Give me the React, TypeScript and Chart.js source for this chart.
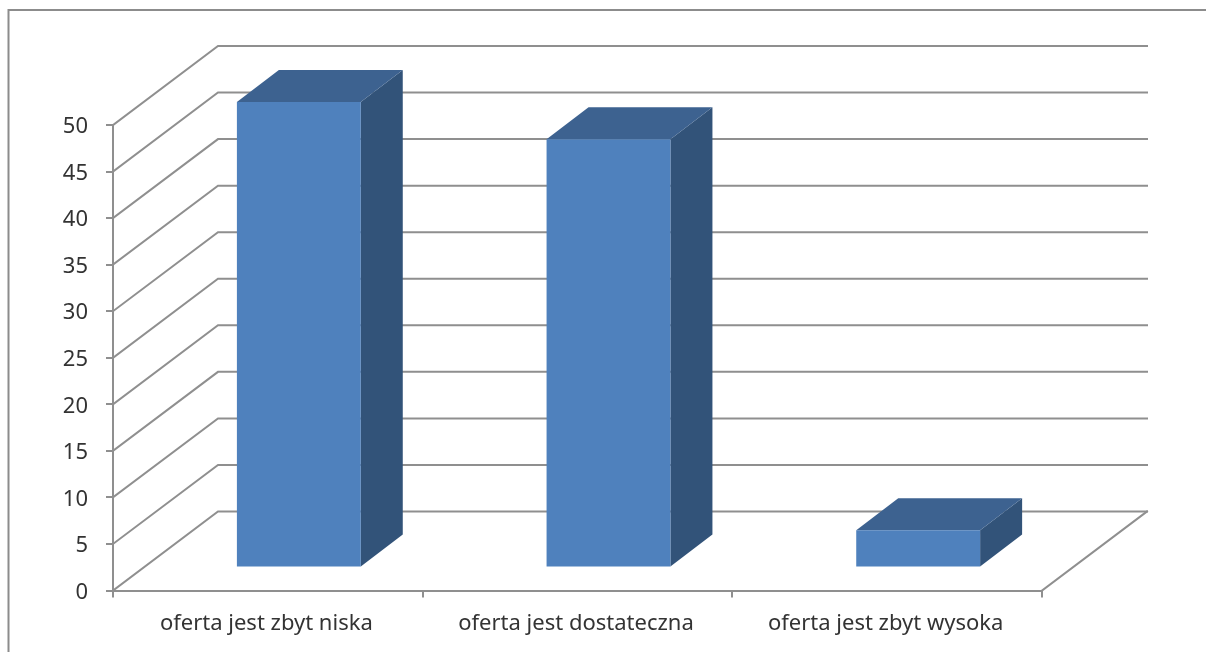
import React, { useEffect, useRef } from "react";
import { Chart, registerables } from "chart.js";

Chart.register(...registerables);

const categories = ["oferta jest zbyt niska", "oferta jest dostateczna", "oferta jest zbyt wysoka"];
const seriesValues = [50, 46, 4];
const yMax = 50;
const yStep = 5;

const LINE = "#8f8f8f";
const TEXT = "#333333";
const FRONT = "#4f81bd";
const SIDE = "#325379";
const TOP = "#3d6290";

const FLOOR_DX = 105;
const FLOOR_DY = -79;
const BAR_SHIFT_X = 31;
const BAR_SHIFT_Y = -23;
const BAR_DX = 42;
const BAR_DY = -32;

const threeD = {
  id: "threeD",
  beforeDraw(chart: any) {
    const { ctx, width, height } = chart;
    ctx.save();
    ctx.strokeStyle = "#8c8c8c";
    ctx.lineWidth = 2;
    ctx.beginPath();
    ctx.moveTo(8.5, height);
    ctx.lineTo(8.5, 10);
    ctx.lineTo(width, 10);
    ctx.stroke();
    ctx.restore();
  },
  beforeDatasetsDraw(chart: any) {
    const { ctx, chartArea, scales } = chart;
    const y = scales.y;
    ctx.save();
    ctx.strokeStyle = LINE;
    ctx.lineWidth = 2;
    ctx.lineCap = "square";
    y.ticks.forEach((_: any, i: number) => {
      const py = y.getPixelForTick(i);
      ctx.beginPath();
      ctx.moveTo(chartArea.left, py);
      ctx.lineTo(chartArea.left + FLOOR_DX, py + FLOOR_DY);
      ctx.lineTo(chartArea.right + FLOOR_DX, py + FLOOR_DY);
      ctx.stroke();
    });
    ctx.beginPath();
    ctx.moveTo(chartArea.right, chartArea.bottom);
    ctx.lineTo(chartArea.right + FLOOR_DX, chartArea.bottom + FLOOR_DY);
    ctx.stroke();
    ctx.restore();

    ctx.save();
    ctx.translate(BAR_SHIFT_X, BAR_SHIFT_Y);
    chart.getDatasetMeta(0).data.forEach((bar: any) => {
      const l = bar.x - bar.width / 2;
      const r = bar.x + bar.width / 2;
      ctx.fillStyle = SIDE;
      ctx.beginPath();
      ctx.moveTo(r, bar.y);
      ctx.lineTo(r + BAR_DX, bar.y + BAR_DY);
      ctx.lineTo(r + BAR_DX, bar.base + BAR_DY);
      ctx.lineTo(r, bar.base);
      ctx.closePath();
      ctx.fill();
      ctx.fillStyle = TOP;
      ctx.beginPath();
      ctx.moveTo(l, bar.y);
      ctx.lineTo(l + BAR_DX, bar.y + BAR_DY);
      ctx.lineTo(r + BAR_DX, bar.y + BAR_DY);
      ctx.lineTo(r, bar.y);
      ctx.closePath();
      ctx.fill();
    });
  },
  afterDatasetsDraw(chart: any) {
    chart.ctx.restore();
  },
};

export default function App() {
  const ref = useRef<HTMLCanvasElement>(null);
  useEffect(() => {
    const chart = new Chart(ref.current as HTMLCanvasElement, {
      type: "bar",
      data: {
        labels: categories,
        datasets: [
          {
            data: seriesValues,
            backgroundColor: FRONT,
            barPercentage: 0.4,
            categoryPercentage: 1,
            clip: false,
          } as any,
        ],
      },
      plugins: [threeD],
      options: {
        responsive: false,
        animation: false,
        layout: { padding: { left: 0, top: 125, right: 164, bottom: 0 } },
        plugins: { legend: { display: false }, tooltip: { enabled: false }, title: { display: false } },
        scales: {
          x: {
            afterFit: (s: any) => {
              s.height = 61.5;
            },
            grid: { drawOnChartArea: false, color: LINE, lineWidth: 2, tickLength: 7, offset: true },
            border: { color: LINE, width: 2 },
            ticks: { color: TEXT, padding: 13, labelOffset: -1.5, maxRotation: 0, font: { family: "Noto Sans", size: 22 } },
          },
          y: {
            min: 0,
            max: yMax,
            afterFit: (s: any) => {
              s.width = 113;
            },
            grid: { drawOnChartArea: false, color: LINE, lineWidth: 2, tickLength: 7 },
            border: { color: LINE, width: 2 },
            ticks: { stepSize: yStep, color: TEXT, padding: 18, labelOffset: 2, font: { family: "Noto Sans", size: 22 } },
          },
        },
      },
    } as any);
    return () => chart.destroy();
  }, []);
  return (
    <>
      <style>{"html,body{margin:0;padding:0;background:#fff;overflow:hidden}"}</style>
      <canvas ref={ref} width={1206} height={652} style={{ display: "block" }} />
    </>
  );
}
